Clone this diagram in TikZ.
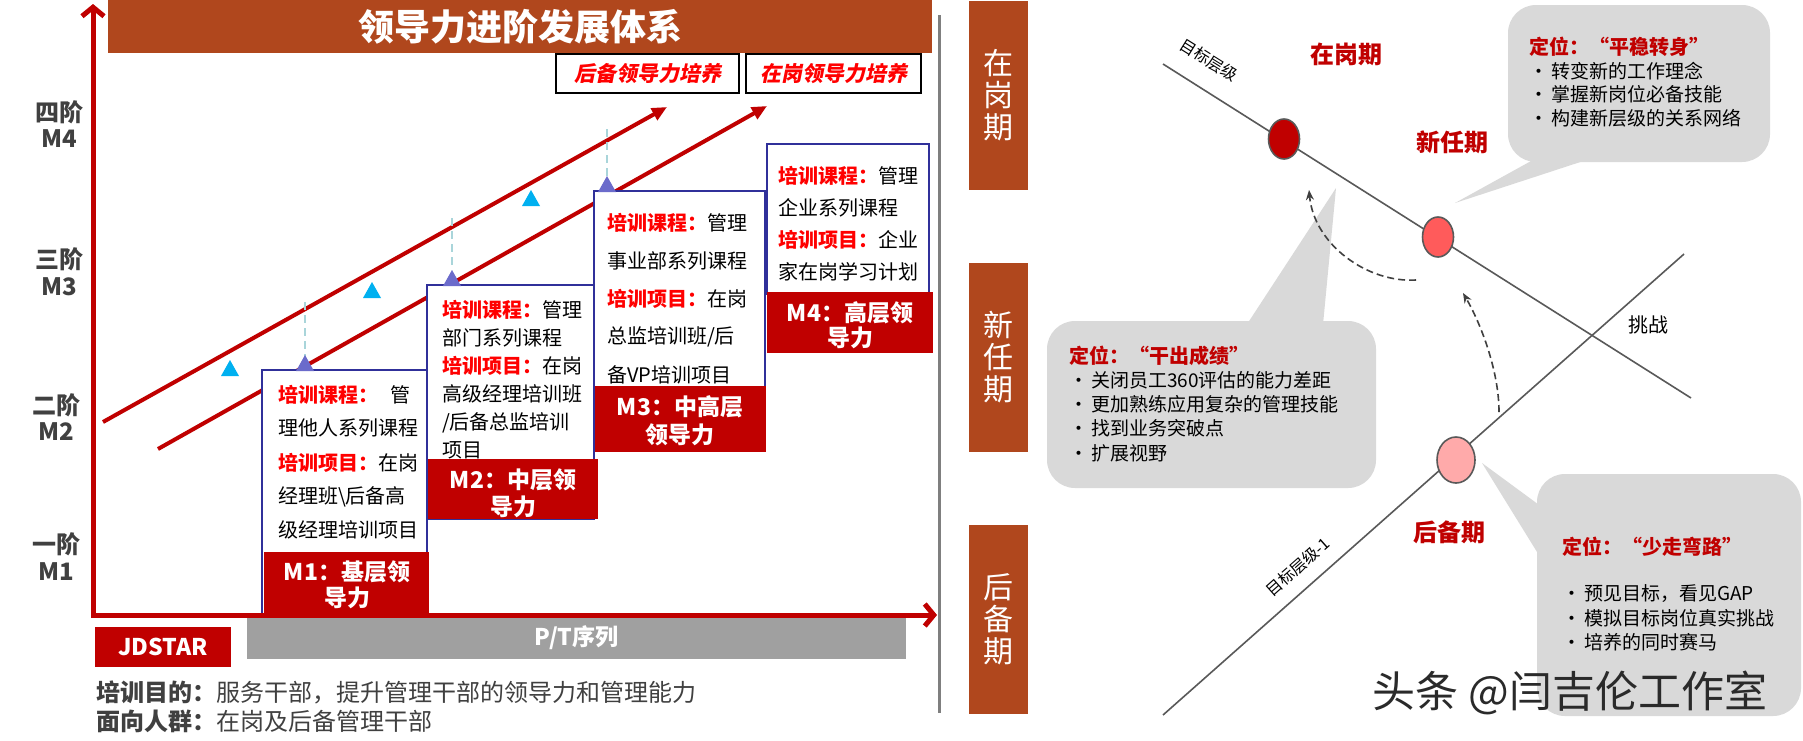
\documentclass[tikz,border=0pt]{standalone}
\usepackage{fontspec}
\setmainfont{Noto Sans CJK SC}
\newfontfamily\cjkit{Noto Sans CJK SC}[FakeSlant=0.2]
\usetikzlibrary{arrows.meta,shapes.geometric}
\definecolor{titlebrown}{HTML}{B0471D}
\definecolor{axred}{HTML}{C00000}
\definecolor{hlred}{HTML}{FF0000}
\definecolor{boxblue}{HTML}{30309A}
\definecolor{purp}{HTML}{6B6BCB}
\definecolor{cyant}{HTML}{00B0F0}
\definecolor{dashblue}{HTML}{A9D5DA}
\definecolor{bargray}{HTML}{A0A0A0}
\definecolor{txtgray}{HTML}{404040}
\definecolor{bubgray}{HTML}{D9D9D9}
\definecolor{linegray}{HTML}{595959}
\definecolor{sepgray}{HTML}{7F7F7F}
\definecolor{cone}{HTML}{C00000}
\definecolor{ctwo}{HTML}{FF5B5B}
\definecolor{cthree}{HTML}{FFAAAA}
\definecolor{wmgray}{HTML}{2A2A2A}
\newcommand{\hlr}[1]{\textcolor{hlred}{\bfseries #1}}
\newcommand{\fsz}[1]{\fontsize{#1}{#1}\selectfont}
\begin{document}
\begin{tikzpicture}[x=1pt,y=-1pt,
  every node/.style={inner sep=0pt,outer sep=0pt},
  axis/.style={draw=axred,line width=5pt,line join=miter},
  diag/.style={draw=axred,line width=4pt,-{Triangle[length=15pt,width=13pt]}},
  stepbox/.style={draw=boxblue,line width=2pt,fill=white},
  redlab/.style={fill=axred},
  btxt/.style={anchor=west,font=\fsz{20},text=black},
  ltxt/.style={text=white,font=\bfseries\fsz{23}},
  lvl/.style={text=txtgray,font=\bfseries\fsz{24}},
  cyantri/.style={fill=cyant},
  purtri/.style={fill=purp},
  vdash/.style={draw=dashblue,line width=2pt,dash pattern=on 8pt off 5pt},
  topbox/.style={draw=black,line width=1.8pt,fill=white,anchor=north west,minimum height=39pt,text=hlred,font=\cjkit\bfseries\fsz{21}},
  stage/.style={fill=titlebrown,anchor=north west,minimum width=59pt,minimum height=189pt,text=white,font=\fsz{30}\linespread{1}\selectfont,align=center},
  tline/.style={draw=linegray,line width=1.6pt},
  dot/.style={ellipse,draw=linegray,line width=1.6pt},
  rlab/.style={text=axred,font=\bfseries\fsz{24}},
  bubble/.style={fill=bubgray,rounded corners=28pt,anchor=north west},
  bubtxt/.style={anchor=west,font=\fsz{19},text=black},
  bubhead/.style={anchor=west,font=\bfseries\fsz{20},text=axred},
  darr/.style={draw=txtgray,line width=1.6pt,dash pattern=on 7pt off 4pt,-{Stealth[length=10pt,width=8pt]}}
]
\useasboundingbox (0,0) rectangle (1803,740);
\fill[white] (0,0) rectangle (1803,740);

% ---------- title ----------
\node[fill=titlebrown,anchor=north west,minimum width=824pt,minimum height=53pt,text=white,font=\bfseries\fsz{36}] (title) at (108,0) {领导力进阶发展体系};
\node[topbox,minimum width=183pt] (hb) at (556,54) {后备领导力培养};
\node[topbox,minimum width=175pt] (zg) at (746,54) {在岗领导力培养};

% ---------- level labels ----------
\node[lvl] (l4a) at (59,112) {四阶};
\node[lvl] (l4b) at (59,139) {M4};
\node[lvl] (l3a) at (59,259) {三阶};
\node[lvl] (l3b) at (59,287) {M3};
\node[lvl] (l2a) at (56,405) {二阶};
\node[lvl] (l2b) at (56,432) {M2};
\node[lvl] (l1a) at (56,544) {一阶};
\node[lvl] (l1b) at (56,572) {M1};

% ---------- diagonal lines ----------
\coordinate (u1) at (103,422);
\coordinate (u2) at (667,107);
\coordinate (w1) at (158,449);
\coordinate (w2) at (767,106);
\draw[diag] (u1) -- (u2);
\draw[diag] (w1) -- (w2);

% ---------- dashed verticals ----------
\coordinate (v1a) at (305,302); \coordinate (v1b) at (305,358);
\coordinate (v2a) at (452,218); \coordinate (v2b) at (452,270);
\coordinate (v3a) at (607,129); \coordinate (v3b) at (607,185);
\draw[vdash] (v1a) -- (v1b);
\draw[vdash] (v2a) -- (v2b);
\draw[vdash] (v3a) -- (v3b);

% ---------- cyan triangles ----------
\fill[cyantri] (221,376) -- (239,376) -- (230,360) -- cycle;
\fill[cyantri] (363,298) -- (381,298) -- (372,282) -- cycle;
\fill[cyantri] (522,206) -- (540,206) -- (531,190) -- cycle;

% ---------- step boxes ----------
\node[stepbox,anchor=north west,minimum width=165pt,minimum height=245pt] (b1) at (262,370) {};
\node[redlab,anchor=north west,minimum width=165pt,minimum height=61pt] (r1) at (264,552) {};
\node[stepbox,anchor=north west,minimum width=167pt,minimum height=234pt] (b2) at (427,285) {};
\node[redlab,anchor=north west,minimum width=170pt,minimum height=60pt] (r2) at (428,459) {};
\node[stepbox,anchor=north west,minimum width=171pt,minimum height=255pt] (b3) at (594,191) {};
\node[redlab,anchor=north west,minimum width=171pt,minimum height=66pt] (r3) at (595,386) {};
\node[stepbox,anchor=north west,minimum width=162pt,minimum height=150pt] (b4) at (767,144) {};
\node[redlab,anchor=north west,minimum width=166pt,minimum height=61pt] (r4) at (767,292) {};

% purple triangles
\fill[purtri] (296,371) -- (314,371) -- (305,355) -- cycle;
\fill[purtri] (443,286) -- (461,286) -- (452,270) -- cycle;
\fill[purtri] (598,192) -- (616,192) -- (607,176) -- cycle;

% box texts M1
\node[btxt] (t11) at (278,395) {\hlr{培训课程：}\hspace{12pt}管};
\node[btxt] (t12) at (278,428) {理他人系列课程};
\node[btxt] (t13) at (278,463) {\hlr{培训项目：}在岗};
\node[btxt] (t14) at (278,497) {经理班\textbackslash 后备高};
\node[btxt] (t15) at (278,530) {级经理培训项目};
% M2
\node[btxt] (t21) at (442,310) {\hlr{培训课程：}管理};
\node[btxt] (t22) at (442,338) {部门系列课程};
\node[btxt] (t23) at (442,366) {\hlr{培训项目：}在岗};
\node[btxt] (t24) at (442,394) {高级经理培训班};
\node[btxt] (t25) at (442,423) {/后备总监培训};
\node[btxt] (t26) at (442,450) {项目};
% M3
\node[btxt] (t31) at (607,223) {\hlr{培训课程：}管理};
\node[btxt] (t32) at (607,261) {事业部系列课程};
\node[btxt] (t33) at (607,299) {\hlr{培训项目：}在岗};
\node[btxt] (t34) at (607,337) {总监培训班/后};
\node[btxt] (t35) at (607,375) {备VP培训项目};
% M4
\node[btxt] (t41) at (778,176) {\hlr{培训课程：}管理};
\node[btxt] (t42) at (778,208) {企业系列课程};
\node[btxt] (t43) at (778,240) {\hlr{培训项目：}企业};
\node[btxt] (t44) at (778,272) {家在岗学习计划};

% red labels
\node[ltxt] (m1a) at (347,572) {M1：基层领};
\node[ltxt] (m1b) at (347,598) {导力};
\node[ltxt] (m2a) at (513,480) {M2：中层领};
\node[ltxt] (m2b) at (513,507) {导力};
\node[ltxt] (m3a) at (680,407) {M3：中高层};
\node[ltxt] (m3b) at (680,435) {领导力};
\node[ltxt] (m4a) at (850,313) {M4：高层领};
\node[ltxt] (m4b) at (850,338) {导力};

% ---------- bar, axes ----------
\node[fill=bargray,anchor=north west,minimum width=659pt,minimum height=42pt,text=white,font=\bfseries\fsz{23}] (pt) at (247,617) {P/T序列};
\coordinate (ytop) at (93,4);
\coordinate (orig) at (93,615);
\coordinate (xend) at (937,615);
\draw[axis,{Straight Barb[length=9pt,width=22pt]}-{Straight Barb[length=9pt,width=22pt]}] (ytop) -- (orig) -- (xend);
\node[fill=axred,anchor=north west,minimum width=136pt,minimum height=40pt,text=white,font=\bfseries\fsz{23}] (jd) at (95,627) {JDSTAR};

\node[anchor=west,text=txtgray,font=\fsz{24}] (aim) at (96,692) {\textbf{培训目的：}服务干部，提升管理干部的领导力和管理能力};
\node[anchor=west,text=txtgray,font=\fsz{24}] (crowd) at (96,721) {\textbf{面向人群：}在岗及后备管理干部};

% ---------- separator ----------
\coordinate (s1) at (939,15);
\coordinate (s2) at (939,713);
\draw[draw=sepgray,line width=3pt] (s1) -- (s2);

% ---------- stages ----------
\node[stage] (st1) at (969,1) {在\\[2pt]岗\\[2pt]期};
\node[stage] (st2) at (969,263) {新\\[2pt]任\\[2pt]期};
\node[stage] (st3) at (969,525) {后\\[2pt]备\\[2pt]期};

% ---------- bubbles ----------
\fill[bubgray] (1551,150) -- (1617,150) -- (1455,203) -- cycle;
\node[bubble,minimum width=262pt,minimum height=157pt] (bb1) at (1508,5) {};
\fill[bubgray] (1240,335) -- (1322,335) -- (1336,188) -- cycle;
\node[bubble,minimum width=329pt,minimum height=167pt] (bb2) at (1047,321) {};
\fill[bubgray] (1550,513) -- (1550,573) -- (1482,463) -- cycle;
\node[bubble,minimum width=264pt,minimum height=242pt] (bb3) at (1537,474) {};

\node[bubhead] (h1) at (1529,47) {定位：“平稳转身”};
\node[bubtxt] (p11) at (1529,71) {•\,转变新的工作理念};
\node[bubtxt] (p12) at (1529,94) {•\,掌握新岗位必备技能};
\node[bubtxt] (p13) at (1529,118) {•\,构建新层级的关系网络};

\node[bubhead] (h2) at (1069,356) {定位：“干出成绩”};
\node[bubtxt] (p21) at (1069,380) {•\,关闭员工360评估的能力差距};
\node[bubtxt] (p22) at (1069,404) {•\,更加熟练应用复杂的管理技能};
\node[bubtxt] (p23) at (1069,428) {•\,找到业务突破点};
\node[bubtxt] (p24) at (1069,453) {•\,扩展视野};

\node[bubhead] (h3) at (1562,547) {定位：“少走弯路”};
\node[bubtxt] (p31) at (1562,594) {•\,预见目标，看见GAP};
\node[bubtxt] (p32) at (1562,618) {•\,模拟目标岗位真实挑战};
\node[bubtxt] (p33) at (1562,642) {•\,培养的同时赛马};

% ---------- target lines ----------
\coordinate (a1) at (1163,64);
\coordinate (a2) at (1691,398);
\coordinate (g1) at (1163,715);
\coordinate (g2) at (1684,254);
\draw[tline] (a1) -- (a2);
\draw[tline] (g1) -- (g2);

\node[dot,fill=cone,minimum width=31pt,minimum height=40pt] (c1) at (1284,139) {};
\node[dot,fill=ctwo,minimum width=31pt,minimum height=40pt] (c2) at (1438,237) {};
\node[dot,fill=cthree,minimum width=38pt,minimum height=46pt] (c3) at (1456,460) {};

\node[rotate=-32,font=\fsz{16}] (tl1) at (1209,60) {目标层级};
\node[rotate=41.5,font=\fsz{16}] (tl2) at (1298,567) {目标层级-1};
\node[rlab] (q1) at (1346,54) {在岗期};
\node[rlab] (q2) at (1452,142) {新任期};
\node[rlab] (q3) at (1449,532) {后备期};
\node[font=\fsz{20}] (tz) at (1648,325) {挑战};

% dashed arrows
\coordinate (d1s) at (1416,280);
\coordinate (d1e) at (1309,190);
\coordinate (d2s) at (1499,412);
\coordinate (d2e) at (1463,293);
\draw[darr] (d1s) .. controls (1368,283) and (1314,245) .. (d1e);
\draw[darr] (d2s) .. controls (1499,370) and (1480,322) .. (d2e);

% watermark
\node[font=\fsz{43},text=wmgray] (wm) at (1570,693) {头条 @闫吉伦工作室};
\end{tikzpicture}
\end{document}
